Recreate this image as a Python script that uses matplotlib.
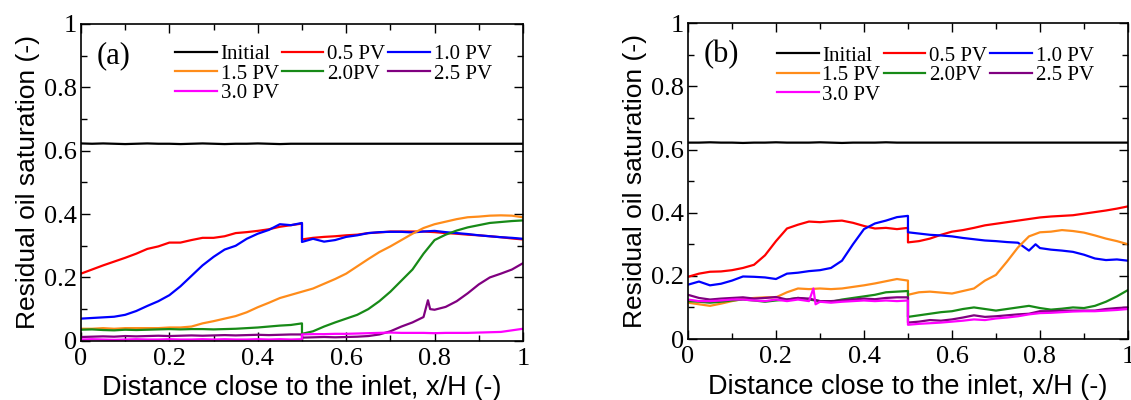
import matplotlib
matplotlib.use("Agg")
import matplotlib.pyplot as plt
from matplotlib.ticker import MultipleLocator, FuncFormatter

# ---------------- data ----------------
XL = [0.0, 0.025, 0.05, 0.075, 0.1, 0.125, 0.15, 0.175, 0.2, 0.225, 0.25,
      0.275, 0.3, 0.325, 0.35, 0.375, 0.4, 0.425, 0.45, 0.475, 0.5]
XR = [0.5, 0.525, 0.55, 0.575, 0.6, 0.625, 0.65, 0.675, 0.7, 0.725, 0.75,
      0.775, 0.8, 0.825, 0.85, 0.875, 0.9, 0.925, 0.95, 0.975, 1.0]

labels = ["Initial", "0.5 PV", "1.0 PV", "1.5 PV", "2.0PV", "2.5 PV", "3.0 PV"]
colors = ["#000000", "#ff0000", "#0000ff", "#ff8c1a", "#178a17", "#800080", "#ff00ff"]

initial_a = [0.623, 0.622, 0.623, 0.622, 0.621, 0.622, 0.623, 0.622, 0.622, 0.621, 0.622,
             0.623, 0.622, 0.621, 0.622, 0.622, 0.623, 0.622, 0.621, 0.622, 0.622]

# Panel (a)
a_red_x = XL + XR
a_red = [0.212, 0.225, 0.238, 0.25, 0.262, 0.275, 0.29, 0.298, 0.31, 0.31, 0.318,
         0.325, 0.325, 0.33, 0.34, 0.343, 0.347, 0.352, 0.36, 0.365, 0.37,
         0.32, 0.325, 0.328, 0.33, 0.333, 0.335, 0.34, 0.342, 0.345, 0.345, 0.345,
         0.345, 0.343, 0.34, 0.338, 0.335, 0.333, 0.33, 0.327, 0.323, 0.32]
a_blue_x = XL + XR
a_blue = [0.07, 0.072, 0.074, 0.076, 0.082, 0.094, 0.11, 0.125, 0.144, 0.172, 0.205,
          0.238, 0.265, 0.288, 0.3, 0.322, 0.338, 0.35, 0.368, 0.365, 0.372,
          0.312, 0.322, 0.313, 0.318, 0.328, 0.333, 0.34, 0.343, 0.344, 0.344, 0.342,
          0.345, 0.347, 0.343, 0.34, 0.337, 0.333, 0.33, 0.327, 0.325, 0.322]
a_orange_x = XL + XR
a_orange = [0.038, 0.038, 0.04, 0.038, 0.04, 0.04, 0.04, 0.04, 0.042, 0.042, 0.045,
            0.055, 0.062, 0.07, 0.078, 0.09, 0.106, 0.12, 0.135, 0.145, 0.155,
            0.155, 0.165, 0.18, 0.195, 0.212, 0.235, 0.258, 0.28, 0.298, 0.318, 0.338,
            0.356, 0.368, 0.376, 0.384, 0.39, 0.392, 0.395, 0.396, 0.395, 0.39]
a_green_x = XL + XR
a_green = [0.035, 0.036, 0.034, 0.033, 0.035, 0.034, 0.035, 0.036, 0.037, 0.036, 0.037,
           0.037, 0.036, 0.037, 0.038, 0.04, 0.042, 0.045, 0.048, 0.05, 0.055,
           0.022, 0.03, 0.045, 0.058, 0.07, 0.082, 0.1, 0.125, 0.155, 0.19, 0.225,
           0.275, 0.318, 0.335, 0.348, 0.358, 0.365, 0.372, 0.375, 0.378, 0.38]
a_purple_x = XL + [0.5, 0.525, 0.55, 0.575, 0.6, 0.625, 0.65, 0.675, 0.7, 0.725, 0.75,
                   0.775, 0.785, 0.79, 0.8, 0.825, 0.85, 0.875, 0.9, 0.925, 0.95, 0.975, 1.0]
a_purple = [0.012, 0.013, 0.014, 0.013, 0.015, 0.014, 0.015, 0.016, 0.015, 0.016, 0.017,
            0.016, 0.017, 0.018, 0.017, 0.018, 0.019, 0.018, 0.019, 0.02, 0.02,
            0.01, 0.011, 0.012, 0.011, 0.012, 0.013, 0.015, 0.02, 0.03, 0.045, 0.058,
            0.075, 0.128, 0.1, 0.098, 0.107, 0.125, 0.15, 0.178, 0.2, 0.212, 0.225, 0.245]
a_magenta_x = XL + XR
a_magenta = [0.004, 0.005, 0.004, 0.003, 0.004, 0.005, 0.004, 0.004, 0.005, 0.004, 0.004,
             0.005, 0.004, 0.005, 0.004, 0.004, 0.005, 0.004, 0.005, 0.004, 0.005,
             0.02, 0.021, 0.021, 0.022, 0.022, 0.023, 0.024, 0.025, 0.026, 0.025, 0.025,
             0.025, 0.024, 0.025, 0.025, 0.025, 0.026, 0.027, 0.028, 0.033, 0.038]

# Panel (b)
initial_b = [0.622, 0.622, 0.623, 0.622, 0.622, 0.621, 0.622, 0.622, 0.623, 0.622, 0.622,
             0.622, 0.623, 0.622, 0.621, 0.622, 0.622, 0.622, 0.623, 0.622, 0.622]
b_red_x = XL + XR
b_red = [0.197, 0.207, 0.213, 0.214, 0.218, 0.225, 0.235, 0.265, 0.31, 0.35, 0.362,
         0.372, 0.37, 0.373, 0.375, 0.368, 0.358, 0.35, 0.352, 0.348, 0.352,
         0.306, 0.31, 0.318, 0.33, 0.34, 0.345, 0.352, 0.36, 0.365, 0.37, 0.375,
         0.38, 0.385, 0.388, 0.39, 0.392, 0.397, 0.402, 0.407, 0.413, 0.42]
b_blue_x = XL + [0.5, 0.525, 0.55, 0.575, 0.6, 0.625, 0.65, 0.675, 0.7, 0.725, 0.75,
                 0.775, 0.79, 0.8, 0.825, 0.85, 0.875, 0.9, 0.925, 0.95, 0.975, 1.0]
b_blue = [0.172, 0.182, 0.17, 0.175, 0.185, 0.198, 0.197, 0.195, 0.19, 0.207, 0.21,
          0.215, 0.218, 0.225, 0.248, 0.3, 0.348, 0.366, 0.375, 0.386, 0.39,
          0.338, 0.334, 0.33, 0.328, 0.325, 0.32, 0.316, 0.312, 0.31, 0.307, 0.305,
          0.28, 0.3, 0.288, 0.283, 0.28, 0.276, 0.267, 0.255, 0.25, 0.252, 0.248]
b_orange_x = XL + XR
b_orange = [0.115, 0.11, 0.105, 0.112, 0.12, 0.127, 0.13, 0.132, 0.132, 0.148, 0.16,
            0.158, 0.16, 0.158, 0.16, 0.165, 0.17, 0.176, 0.183, 0.19, 0.185,
            0.14, 0.148, 0.15, 0.147, 0.144, 0.152, 0.16, 0.185, 0.203, 0.245, 0.29,
            0.325, 0.338, 0.34, 0.345, 0.342, 0.337, 0.328, 0.318, 0.31, 0.3]
b_green_x = XL + XR
b_green = [0.12, 0.118, 0.115, 0.118, 0.122, 0.125, 0.122, 0.118, 0.122, 0.125, 0.13,
           0.125, 0.12, 0.118, 0.125, 0.13, 0.135, 0.14, 0.148, 0.15, 0.152,
           0.07, 0.075, 0.08, 0.085, 0.088, 0.095, 0.1, 0.095, 0.09, 0.095, 0.1,
           0.105, 0.098, 0.093, 0.096, 0.1, 0.098, 0.105, 0.118, 0.135, 0.155]
b_purple_x = XL + XR
b_purple = [0.14, 0.13, 0.125, 0.128, 0.13, 0.132, 0.128, 0.13, 0.133, 0.125, 0.13,
            0.128, 0.12, 0.12, 0.122, 0.125, 0.128, 0.126, 0.13, 0.132, 0.132,
            0.052, 0.055, 0.06, 0.058, 0.062, 0.068, 0.075, 0.07, 0.072, 0.075, 0.078,
            0.08, 0.088, 0.088, 0.09, 0.09, 0.09, 0.09, 0.095, 0.098, 0.1]
b_magenta_x = [0.0, 0.025, 0.05, 0.075, 0.1, 0.125, 0.15, 0.175, 0.2, 0.225, 0.25,
               0.275, 0.285, 0.29, 0.3, 0.325, 0.35, 0.375, 0.4, 0.425, 0.45, 0.475, 0.5] + XR
b_magenta = [0.125, 0.12, 0.12, 0.122, 0.125, 0.125, 0.122, 0.12, 0.125, 0.12, 0.125,
             0.12, 0.16, 0.11, 0.118, 0.115, 0.118, 0.12, 0.122, 0.12, 0.122, 0.12, 0.122,
             0.045, 0.048, 0.05, 0.052, 0.055, 0.058, 0.062, 0.06, 0.065, 0.068, 0.072,
             0.078, 0.082, 0.083, 0.085, 0.087, 0.088, 0.088, 0.09, 0.092, 0.095]

panel_a = [(XL + [1.0], initial_a + [0.622]), (a_red_x, a_red), (a_blue_x, a_blue),
           (a_orange_x, a_orange), (a_green_x, a_green), (a_purple_x, a_purple),
           (a_magenta_x, a_magenta)]
panel_b = [(XL + [1.0], initial_b + [0.622]), (b_red_x, b_red), (b_blue_x, b_blue),
           (b_orange_x, b_orange), (b_green_x, b_green), (b_purple_x, b_purple),
           (b_magenta_x, b_magenta)]

# ---------------- drawing ----------------
SERIF = ["Liberation Serif", "DejaVu Serif"]
SANS = ["Liberation Sans", "DejaVu Sans"]

fig = plt.figure(figsize=(11.31, 4.0), dpi=100)
axa = fig.add_axes([0.0716, 0.148, 0.3908, 0.792])
axb = fig.add_axes([0.6083, 0.1525, 0.389, 0.7893])


def fmt(v, pos):
    return "%g" % round(v, 2)


for ax, series, tag, leg_anchor in ((axa, panel_a, "(a)", (0.213, 0.935)),
                                    (axb, panel_b, "(b)", (0.202, 0.928))):
    handles = []
    for (xs, ys), lab, col in zip(series, labels, colors):
        h, = ax.plot(xs, ys, color=col, lw=1.6, label=lab)
        handles.append(h)
    ax.set_xlim(0, 1)
    ax.set_ylim(0, 1)
    ax.xaxis.set_major_locator(MultipleLocator(0.2))
    ax.xaxis.set_minor_locator(MultipleLocator(0.1))
    ax.yaxis.set_major_locator(MultipleLocator(0.2))
    ax.yaxis.set_minor_locator(MultipleLocator(0.1))
    ax.xaxis.set_major_formatter(FuncFormatter(fmt))
    ax.yaxis.set_major_formatter(FuncFormatter(fmt))
    ax.tick_params(which="both", direction="in", top=True, right=True, width=1.0)
    ax.tick_params(which="major", length=6.5)
    ax.tick_params(which="minor", length=4.3)
    ax.tick_params(axis="x", pad=5)
    ax.tick_params(axis="y", pad=3)
    for t in ax.get_xticklabels() + ax.get_yticklabels():
        t.set_fontfamily(SERIF)
        t.set_fontsize(19)
    for s in ax.spines.values():
        s.set_linewidth(1.2)
    ax.set_xlabel("Distance close to the inlet, x/H (-)", fontfamily=SANS,
                  fontsize=19.5, labelpad=4)
    ax.set_ylabel("Residual oil saturation (-)", fontfamily=SANS,
                  fontsize=19, labelpad=3)
    ax.text(0.036, 0.9, tag, transform=ax.transAxes, fontfamily=SERIF,
            fontsize=22, va="center", ha="left")
    order = [0, 3, 6, 1, 4, 2, 5]
    ax.legend([handles[i] for i in order], [labels[i] for i in order], ncol=3,
              loc="upper left", bbox_to_anchor=leg_anchor, frameon=False,
              prop={"family": SERIF, "size": 15}, handlelength=2.0,
              handletextpad=0.18, columnspacing=0.15, labelspacing=0.0,
              borderpad=0.0, borderaxespad=0.0)

fig.savefig("out.png", dpi=100)
